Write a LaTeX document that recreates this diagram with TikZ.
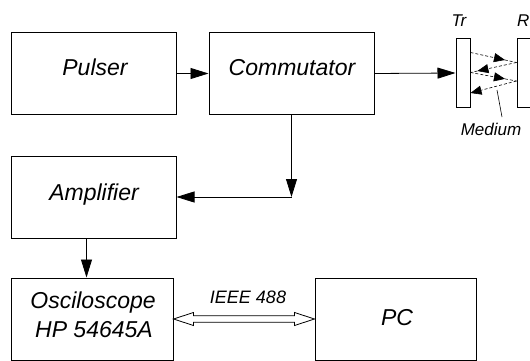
\documentclass[tikz,border=0pt]{standalone}
\usepackage{fontspec}
\setmainfont{Liberation Sans}
\usetikzlibrary{arrows.meta,calc,decorations.markings}

\begin{document}
\begin{tikzpicture}[x=1pt,y=-1pt,
  box/.style={draw, line width=1pt, rectangle, inner sep=0pt,
              minimum width=165pt, minimum height=81pt},
  lbl/.style={anchor=base, inner sep=0pt, font=\fontsize{23}{27}\selectfont\itshape},
  small/.style={anchor=base, inner sep=0pt, font=\fontsize{17}{20}\selectfont\itshape},
  flow/.style={line width=0.8pt, -{Triangle[length=18pt,width=11pt]}},
  plate/.style={draw, line width=1pt, inner sep=0pt,
                minimum width=14pt, minimum height=68pt},
  wave/.style={dash pattern=on 3pt off 2pt, line width=0.6pt},
  echotip/.style={-{Triangle[length=11pt,width=9pt]}},
  tipat/.style={postaction={decorate, decoration={markings,
      mark=at position #1 with {\arrow{Triangle[length=11pt,width=9pt]}}}}},
]
\useasboundingbox (0,0) rectangle (530,361);
\clip (0,0) rectangle (530,361);

% blocks
\node[box] (pulser) at (93.5,73.5) {};
\node[box] (comm) at (291.5,73.5) {};
\node[box, minimum height=82pt] (amp) at (93.5,197) {};
\node[box, minimum width=162pt, minimum height=82pt] (osc) at (92,319) {};
\node[box, minimum width=161pt, minimum height=82pt] (pc) at (395.5,319) {};

% transducer plates
\node[plate] (tr) at (463,73) {};
\node[plate, minimum width=30pt] (rx) at (532,73) {};

% block texts
\node[lbl] (pulsertxt) at (95,75) {Pulser};
\node[lbl] (commtxt) at (292,75) {Commutator};
\node[lbl] (amptxt) at (94,200) {Amplifier};
\node[lbl] (osctxt) at (93,308) {Osciloscope};
\node[lbl] (hptxt) at (94,337) {HP 54645A};
\node[lbl] (pctxt) at (397,325) {PC};
\node[anchor=base, inner sep=0pt, font=\fontsize{18}{21}\selectfont\itshape] (bus) at (248,303) {IEEE 488};
\node[small] (trtxt) at (459,27) {Tr};
\node[small, anchor=base west] (rtxt) at (517,27) {R};
\node[small] (medium) at (491,135) {Medium};

% signal path
\draw[flow] (pulser.east) -- (comm.west);
\draw[flow] (comm.east) -- (tr.west);
\coordinate (bend) at (comm.south |- amp.east);
\draw[flow] (comm.south) -- (bend);
\draw[flow] (bend) -- (amp.east);
\coordinate (ampout) at ($(amp.south)+(-7,0)$);
\draw[flow] (ampout) -- (ampout |- osc.north);

% bidirectional bus arrow
\draw[line width=0.8pt, fill=white, line join=miter]
  (osc.east) -- ++(20,-6.5) -- ++(0,3.2) -- ($(pc.west)+(-20,-3.3)$)
  -- ++(0,-3.2) -- (pc.west) -- ++(-20,6.5) -- ++(0,-3.2)
  -- ($(osc.east)+(20,3.3)$) -- ++(0,3.2) -- cycle;

% echoes in the medium
\coordinate (w0) at ($(tr.east)+(0,-20.5)$);
\coordinate (w1) at ($(rx.west)+(0,-10.5)$);
\coordinate (w2) at ($(tr.east)+(0,-0.5)$);
\coordinate (w3) at ($(rx.west)+(0,8)$);
\coordinate (w4) at ($(tr.east)+(0,20)$);
\draw[wave, tipat=0.75] (w0) -- (w1);
\draw[wave, tipat=0.85] (w1) -- (w2);
\draw[wave, tipat=0.75] (w2) -- (w3);
\draw[wave, echotip] (w3) -- (w4);

% pointer to the medium
\coordinate (leadtop) at (497,90);
\coordinate (leadfoot) at (502,117);
\draw[line width=0.6pt] (leadfoot) -- (leadtop);
\end{tikzpicture}
\end{document}
